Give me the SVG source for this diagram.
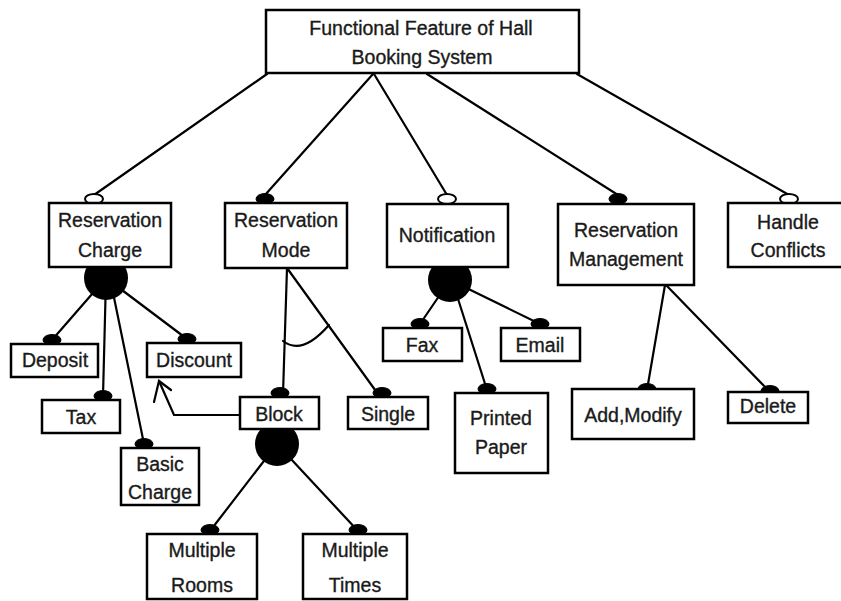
<svg xmlns="http://www.w3.org/2000/svg" width="841" height="601" viewBox="0 0 841 601">
  <style>
    .box { fill: #ffffff; stroke: #000000; stroke-width: 2.5; }
    .edge { fill: none; stroke: #000000; stroke-width: 2.2; stroke-linecap: round; }
    .mand { fill: #000000; stroke: #000000; stroke-width: 1; }
    .opt { fill: #ffffff; stroke: #000000; stroke-width: 2; }
    .grp { fill: #000000; }
    text { font-family: "Liberation Sans", Arial, sans-serif; font-size: 19.5px; fill: #1a1a1a; stroke: #1a1a1a; stroke-width: 0.35; text-anchor: middle; }
  </style>
  <rect width="841" height="601" fill="#ffffff"/>

  <!-- connectors -->
  <g id="connectors">
    <line class="edge" x1="267" y1="74" x2="94" y2="195"/>
    <line class="edge" x1="373" y1="74" x2="265" y2="195"/>
    <line class="edge" x1="374" y1="74" x2="447" y2="195"/>
    <line class="edge" x1="427" y1="74" x2="618" y2="195"/>
    <line class="edge" x1="577" y1="74" x2="789" y2="195"/>

    <!-- Reservation Charge children -->
    <line class="edge" x1="106" y1="278" x2="52" y2="340"/>
    <line class="edge" x1="106" y1="278" x2="103" y2="396"/>
    <line class="edge" x1="110" y1="278" x2="144" y2="444"/>
    <line class="edge" x1="106" y1="278" x2="187" y2="339"/>

    <!-- Reservation Mode children (alternative) -->
    <line class="edge" x1="287" y1="268" x2="283" y2="394"/>
    <line class="edge" x1="287" y1="268" x2="378" y2="394"/>
    <path class="edge" d="M283,341 Q302,356 329,325" stroke-width="2.6"/>

    <!-- Block children -->
    <line class="edge" x1="277" y1="444" x2="210" y2="531"/>
    <line class="edge" x1="277" y1="444" x2="358" y2="531"/>

    <!-- Block requires Discount -->
    <polyline class="edge" points="240,415 174,415 159,381" stroke-width="2.6"/>
    <polyline class="edge" points="154,402 159,381 171,390" stroke-width="2.6"/>

    <!-- Notification children -->
    <line class="edge" x1="450" y1="280" x2="420" y2="324"/>
    <line class="edge" x1="450" y1="280" x2="540" y2="324"/>
    <line class="edge" x1="452" y1="280" x2="487" y2="390"/>

    <!-- Reservation Management children -->
    <line class="edge" x1="665" y1="285" x2="647" y2="390"/>
    <line class="edge" x1="666" y1="285" x2="770" y2="392"/>
  </g>

  <!-- group circles and end markers -->
  <g id="markers">
    <circle class="grp" cx="106" cy="278" r="22"/>
    <circle class="grp" cx="277" cy="444" r="22"/>
    <circle class="grp" cx="450" cy="280" r="22"/>

    <ellipse class="opt" cx="94" cy="199" rx="9" ry="5"/>
    <ellipse class="mand" cx="265" cy="199" rx="9" ry="5.5"/>
    <ellipse class="opt" cx="447" cy="199" rx="9" ry="5"/>
    <ellipse class="mand" cx="618" cy="199" rx="9" ry="5.5"/>
    <ellipse class="opt" cx="789" cy="199" rx="9" ry="5"/>

    <ellipse class="mand" cx="52" cy="340" rx="9" ry="5.5"/>
    <ellipse class="mand" cx="103" cy="396" rx="9" ry="5.5"/>
    <ellipse class="mand" cx="144" cy="444" rx="9" ry="5.5"/>
    <ellipse class="mand" cx="187" cy="339" rx="9" ry="5.5"/>
    <ellipse class="mand" cx="280" cy="393" rx="9" ry="5.5"/>
    <ellipse class="mand" cx="382" cy="393" rx="9" ry="5.5"/>
    <ellipse class="mand" cx="210" cy="530" rx="9" ry="5.5"/>
    <ellipse class="mand" cx="358" cy="530" rx="9" ry="5.5"/>
    <ellipse class="mand" cx="420" cy="324" rx="9" ry="5.5"/>
    <ellipse class="mand" cx="540" cy="324" rx="9" ry="5.5"/>
    <ellipse class="mand" cx="487" cy="389" rx="9" ry="5.5"/>
    <ellipse class="mand" cx="647" cy="389" rx="9" ry="5.5"/>
    <ellipse class="mand" cx="770" cy="391" rx="9" ry="5.5"/>
  </g>

  <!-- nodes -->
  <g id="root">
    <rect class="box" x="266" y="10" width="313" height="63"/>
    <text x="421" y="35">Functional Feature of Hall</text>
    <text x="422" y="64">Booking System</text>
  </g>

  <g id="reservation-charge">
    <rect class="box" x="49" y="203" width="122" height="64"/>
    <text x="110" y="227">Reservation</text>
    <text x="110" y="257">Charge</text>
  </g>
  <g id="reservation-mode">
    <rect class="box" x="225" y="203" width="122" height="65"/>
    <text x="286" y="227">Reservation</text>
    <text x="286" y="257">Mode</text>
  </g>
  <g id="notification">
    <rect class="box" x="387" y="204" width="121" height="63"/>
    <text x="447" y="242">Notification</text>
  </g>
  <g id="reservation-management">
    <rect class="box" x="558" y="204" width="136" height="81"/>
    <text x="626" y="237">Reservation</text>
    <text x="626" y="266">Management</text>
  </g>
  <g id="handle-conflicts">
    <rect class="box" x="728" y="203" width="125" height="64"/>
    <text x="788" y="229">Handle</text>
    <text x="788" y="257">Conflicts</text>
  </g>

  <g id="deposit">
    <rect class="box" x="11" y="344" width="87" height="33"/>
    <text x="55" y="367">Deposit</text>
  </g>
  <g id="discount">
    <rect class="box" x="147" y="343" width="94" height="34"/>
    <text x="194" y="367">Discount</text>
  </g>
  <g id="tax">
    <rect class="box" x="42" y="400" width="78" height="33"/>
    <text x="81" y="424">Tax</text>
  </g>
  <g id="basic-charge">
    <rect class="box" x="121" y="448" width="78" height="57"/>
    <text x="160" y="471">Basic</text>
    <text x="160" y="499">Charge</text>
  </g>

  <g id="block">
    <rect class="box" x="240" y="397" width="79" height="32"/>
    <text x="279" y="421">Block</text>
  </g>
  <g id="single">
    <rect class="box" x="348" y="397" width="80" height="32"/>
    <text x="388" y="421">Single</text>
  </g>
  <g id="multiple-rooms">
    <rect class="box" x="147" y="534" width="110" height="65"/>
    <text x="202" y="557">Multiple</text>
    <text x="202" y="592">Rooms</text>
  </g>
  <g id="multiple-times">
    <rect class="box" x="303" y="534" width="104" height="65"/>
    <text x="355" y="557">Multiple</text>
    <text x="355" y="592">Times</text>
  </g>

  <g id="fax">
    <rect class="box" x="383" y="328" width="79" height="33"/>
    <text x="422" y="352">Fax</text>
  </g>
  <g id="email">
    <rect class="box" x="501" y="328" width="79" height="33"/>
    <text x="540" y="352">Email</text>
  </g>
  <g id="printed-paper">
    <rect class="box" x="455" y="393" width="93" height="80"/>
    <text x="501" y="425">Printed</text>
    <text x="501" y="454">Paper</text>
  </g>

  <g id="add-modify">
    <rect class="box" x="572" y="389" width="122" height="50"/>
    <text x="633" y="422">Add,Modify</text>
  </g>
  <g id="delete">
    <rect class="box" x="728" y="392" width="80" height="31"/>
    <text x="768" y="413">Delete</text>
  </g>
</svg>
